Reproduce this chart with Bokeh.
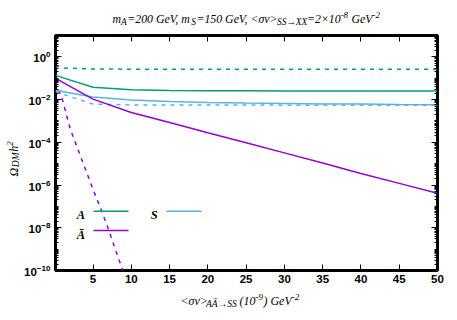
import math
from bokeh.plotting import figure
from bokeh.layouts import column, row
from bokeh.models import (Label, Arrow, LogAxis, LinearAxis, FixedTicker,
                          Range1d, CustomJSTickFormatter, ColumnDataSource)
from bokeh.embed import file_html
from bokeh.resources import INLINE

# ---------------- data ----------------
sigma_x = [0.1, 1, 5, 10, 15, 20, 25, 30, 35, 40, 45, 50]
omega_A_solid = [0.14, 0.107, 0.038, 0.029, 0.027, 0.0257, 0.0257, 0.025, 0.025, 0.025, 0.025, 0.025]
omega_A_dashed = [0.40, 0.30, 0.27, 0.265, 0.265, 0.26, 0.26, 0.26, 0.26, 0.26, 0.26, 0.26]
omega_Abar_solid = [0.1, 0.066, 0.0105, 2.5e-3, 8.5e-4, 2.8e-4, 9.5e-5, 3.2e-5, 1.07e-5, 3.5e-6, 1.2e-6, 4.1e-7]
omega_S_solid = [0.028, 0.024, 0.0132, 0.0095, 0.0081, 0.0074, 0.0069, 0.0066, 0.0063, 0.0062, 0.0059, 0.0058]
omega_S_dashed = [0.024, 0.018, 0.0062, 0.0056, 0.0056, 0.0056, 0.0056, 0.0055, 0.0055, 0.0055, 0.0055, 0.0055]

abar_dashed_x = [0.1, 1, 2, 3, 4, 5, 6, 7, 8, 9, 10]
omega_Abar_dashed = [0.07, 1e-2, 4.5e-4, 5e-5, 5.6e-6, 6.3e-7, 8e-8, 9e-9, 8e-10, 8e-11, 8e-12]

x_ticks = [5, 10, 15, 20, 25, 30, 35, 40, 45, 50]
y_major_exp = [-10, -8, -6, -4, -2, 0]

GREEN = "#009e73"
PURPLE = "#9400d3"
BLUE = "#56b4e9"

# ---------------- page geometry ----------------
PAGE_W, PAGE_H = 457, 320
TITLE_H = 27          # strip holding the title
YLAB_W = 21           # strip holding the y-axis title
MAIN_BOTTOM = 288     # page y where the x-axis title strip starts
MAIN_H = MAIN_BOTTOM - TITLE_H
MAIN_W = PAGE_W - YLAB_W
FRAME_L, FRAME_R, FRAME_T, FRAME_B = 55, 437, 35, 270


def text_strip(w, h):
    f = figure(width=w, height=h, x_range=Range1d(0, 1), y_range=Range1d(0, 1),
               x_axis_location=None, y_axis_location=None, toolbar_location=None,
               output_backend="svg", min_border=0, outline_line_color=None)
    f.grid.visible = False
    f.background_fill_color = "white"
    f.border_fill_color = "white"
    return f


p = figure(width=MAIN_W, height=MAIN_H, x_range=Range1d(0.1, 50), y_range=Range1d(1e-10, 10),
           y_axis_type="log", output_backend="svg", toolbar_location=None,
           min_border_left=FRAME_L - YLAB_W, min_border_right=PAGE_W - FRAME_R,
           min_border_top=FRAME_T - TITLE_H, min_border_bottom=MAIN_BOTTOM - FRAME_B)
p.grid.visible = False
p.outline_line_color = "black"
p.outline_line_width = 3
p.background_fill_color = "white"
p.border_fill_color = "white"


def line(xs, ys, color, dash="solid"):
    src = ColumnDataSource(dict(x=xs, y=ys))
    return p.line("x", "y", source=src, line_color=color, line_width=1.5, line_dash=dash)


line(sigma_x, omega_A_dashed, GREEN, "4 5")
line(sigma_x, omega_S_dashed, BLUE, "4 5")
line(abar_dashed_x, omega_Abar_dashed, PURPLE, "4 5")
line(sigma_x, omega_A_solid, GREEN)
line(sigma_x, omega_S_solid, BLUE)
line(sigma_x, omega_Abar_solid, PURPLE)

# ---------------- axes ----------------
y_major = [10.0 ** e for e in y_major_exp]
y_minor = []
for d in range(-10, 1):
    for k in range(1, 10):
        v = k * 10.0 ** d
        if v not in y_major and v <= 10:
            y_minor.append(v)


def style_axis(ax, show_labels):
    ax.axis_line_color = None
    ax.major_tick_in = 6
    ax.major_tick_out = 0
    ax.minor_tick_in = 3
    ax.minor_tick_out = 0
    ax.major_tick_line_width = 1
    ax.major_label_text_font = "Liberation Sans"
    ax.major_label_text_font_style = "bold"
    ax.major_label_text_font_size = "11.5px"
    ax.major_label_text_color = "black"
    if not show_labels:
        ax.formatter = CustomJSTickFormatter(code="return ''")
        ax.major_label_text_font_size = "0px"
        ax.major_label_standoff = 0


xa = p.xaxis[0]
xa.ticker = FixedTicker(ticks=x_ticks, minor_ticks=[])
style_axis(xa, True)
xa.major_label_standoff = 4

ya = p.yaxis[0]
ya.ticker = FixedTicker(ticks=y_major, minor_ticks=y_minor)
style_axis(ya, True)
ya.major_label_standoff = 5

top = LinearAxis(ticker=FixedTicker(ticks=x_ticks, minor_ticks=[]))
style_axis(top, False)
p.add_layout(top, "above")
right = LogAxis(ticker=FixedTicker(ticks=y_major, minor_ticks=y_minor))
style_axis(right, False)
p.add_layout(right, "right")

# ---------------- rich text helper ----------------
CW = {' ': 0.25, ',': 0.25, '=': 0.675, '<': 0.6, '>': 0.6, '(': 0.333, ')': 0.333,
      '-': 0.333, '×': 0.675, 'A': 0.611, 'Ā': 0.611, 'G': 0.722, 'V': 0.611, 'S': 0.5,
      'X': 0.611, 'D': 0.722, 'M': 0.833, 'm': 0.722, 'e': 0.444, 'v': 0.444, 'h': 0.5,
      'σ': 0.48, 'Ω': 0.77, '→': 0.9}
for dch in "0123456789":
    CW[dch] = 0.5


def twidth(s, size):
    return sum(CW.get(c, 0.55) for c in s) * size


SERIF = "Liberation Serif"


def rich(fig, segments, x0, y0, size, rotate=False, style="italic", sub_off=0.25):
    pos = 0.0
    for text, kind in segments:
        if kind == "n":
            fs, off = size, 0.0
        elif kind == "sub":
            fs, off = size * 0.8, size * sub_off
        else:
            fs, off = size * 0.75, -size * 0.3
        # SVG collapses leading blanks: advance for them explicitly
        lead = len(text) - len(text.lstrip(" "))
        pos += lead * CW[' '] * fs
        text = text.lstrip(" ")
        if not rotate:
            x, y, ang = x0 + pos, y0 + off, 0.0
        else:
            x, y, ang = x0 + off, y0 - pos, math.pi / 2
        fig.add_layout(Label(x=x, y=y, x_units="canvas", y_units="canvas", text=text,
                             text_font=SERIF, text_font_style=style,
                             text_font_size=f"{fs:.1f}px", text_align="left",
                             text_baseline="alphabetic", angle=ang, text_color="black"))
        pos += twidth(text, fs) + (0.5 if kind != "n" else 0.0)


title_fig = text_strip(PAGE_W, TITLE_H)
title_segs = [("m", "n"), ("A", "sub"), ("=200 GeV, m", "n"), ("S", "sub"),
              ("=150 GeV, <σv>", "n"), ("SS→XX", "sub"), ("=2×10", "n"), ("-8", "sup"),
              (" GeV", "n"), ("-2", "sup")]
rich(title_fig, title_segs, 112, 18.5, 11.8)

xlab_fig = text_strip(PAGE_W, PAGE_H - MAIN_BOTTOM)
xlab_segs = [("<σv>", "n"), ("AĀ→SS", "sub"), (" (10", "n"), ("-9", "sup"),
             (") GeV", "n"), ("-2", "sup")]
rich(xlab_fig, xlab_segs, 180, 300 - MAIN_BOTTOM, 12)

ylab_fig = text_strip(YLAB_W, MAIN_H)
ylab_segs = [("Ω", "n"), ("DM", "sub"), ("h", "n"), ("2", "sup")]
rich(ylab_fig, ylab_segs, 13, 176 - TITLE_H, 12, rotate=True, sub_off=0.17)


# ---------------- legend ----------------
def legend_entry(label, tx, ty, x1, x2, color):
    ox, oy = YLAB_W, TITLE_H
    p.add_layout(Label(x=tx - ox, y=ty - oy, x_units="canvas", y_units="canvas", text=label,
                       text_font=SERIF, text_font_style="bold italic", text_font_size="12.5px",
                       text_align="right", text_baseline="alphabetic", text_color="black"))
    p.add_layout(Arrow(end=None, x_start=x1 - ox, y_start=ty - 4 - oy, x_end=x2 - ox,
                       y_end=ty - 4 - oy, start_units="canvas", end_units="canvas",
                       line_color=color, line_width=1.5))


legend_entry("A", 84.5, 214.7, 93, 128, GREEN)
legend_entry("Ā", 84.5, 234, 93, 128, PURPLE)
legend_entry("S", 157.3, 214.7, 166, 201, BLUE)

layout = column(title_fig, row(ylab_fig, p, spacing=0), xlab_fig, spacing=0)
open("out.html", "w").write(file_html(layout, INLINE))
